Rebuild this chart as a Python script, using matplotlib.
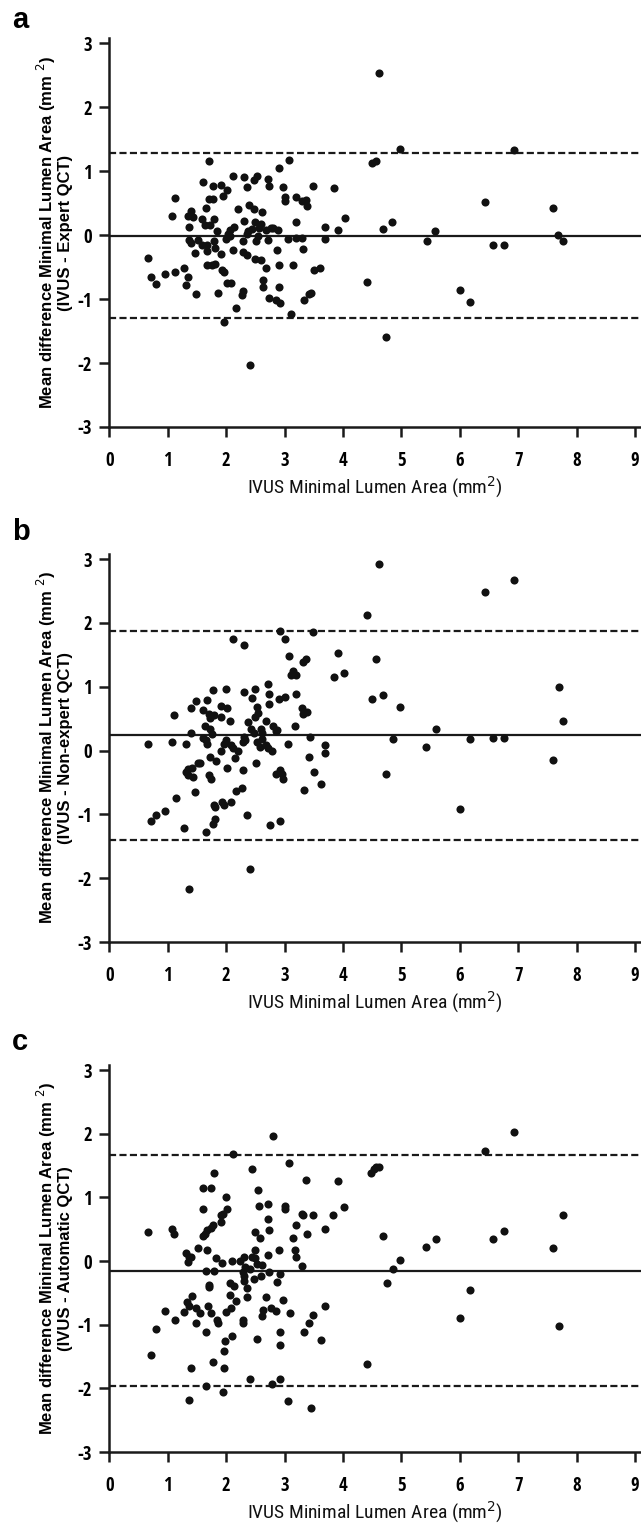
import numpy as np
import matplotlib
matplotlib.use("Agg")
import matplotlib.pyplot as plt
from matplotlib import font_manager as fm
from matplotlib.ft2font import FT2Font

plt.rcParams['font.family'] = ['Liberation Sans', 'DejaVu Sans']
plt.rcParams['axes.unicode_minus'] = False

# the figure uses a narrow (condensed) sans; look for a similar installed face
ok_families = ('DejaVu Sans', 'Liberation Sans', 'Noto Sans', 'Roboto', 'Open Sans', 'Lato', 'Inter')
bad_words = ('Symbol', 'Math', 'Mono', 'CJK', 'Serif', 'Emoji', 'Italic')


def weight_of(f):
    w = f.weight
    if isinstance(w, str):
        w = fm.weight_dict.get(w, 400)
    return w


def zero_width(path):
    # advance of '0' in em, or None if the face lacks digits / letters
    try:
        ft = FT2Font(path)
        for ch in '0123456789-ACIMSUVQT':
            if ft.get_char_index(ord(ch)) == 0:
                return None
        ft.set_size(100, 72)
        g = ft.load_char(ord('0'))
        return g.horiAdvance / 64.0 / 100.0
    except Exception:
        return None


bold_faces = []
mid_faces = []
reg_faces = []
for f in fm.fontManager.ttflist:
    if f.style != 'normal' or not f.name.startswith(ok_families):
        continue
    if any(b in f.name for b in bad_words):
        continue
    narrowish = ('Narrow' in f.name or 'Condensed' in f.name or
                 f.stretch in ('condensed', 'semi-condensed', 'extra-condensed'))
    if not narrowish:
        continue
    zw = zero_width(f.fname)
    if zw is None:
        continue
    w = weight_of(f)
    if 650 <= w <= 800:
        bold_faces.append((abs(zw - 0.47), f.fname))
    elif 550 <= w < 650:
        mid_faces.append((abs(zw - 0.47), f.fname))
    elif 400 <= w <= 500:
        reg_faces.append((abs(zw - 0.47), f.fname))
bold_faces.sort()
mid_faces.sort()
reg_faces.sort()

if bold_faces:
    tick_fp = fm.FontProperties(fname=bold_faces[0][1], size=13.5)
elif mid_faces:
    tick_fp = fm.FontProperties(fname=mid_faces[0][1], size=13.5)
else:
    tick_fp = fm.FontProperties(family=['Liberation Sans', 'DejaVu Sans'], weight='bold', size=13)
if mid_faces:
    xlab_fp = fm.FontProperties(fname=mid_faces[0][1], size=13.5)
elif reg_faces:
    xlab_fp = fm.FontProperties(fname=reg_faces[0][1], size=14)
else:
    xlab_fp = fm.FontProperties(family=['Liberation Sans', 'DejaVu Sans'], size=12.5)

# panel a: IVUS - Expert QCT
a_x = [4.62, 4.97, 4.50, 4.57, 1.71, 3.08, 2.91, 2.11, 2.30, 2.47, 2.52, 2.71, 1.61, 1.77, 1.91,
       2.01, 2.36, 2.73, 2.98, 3.48, 3.84, 1.12, 1.95, 1.70, 1.78, 3.00, 3.01, 3.20, 3.29, 3.37,
       3.38, 2.39, 2.47, 2.21, 2.62, 1.65, 1.39, 1.08, 1.34, 1.43, 1.59, 1.80, 1.64, 1.72, 1.36,
       2.30, 2.49, 2.59, 3.19, 4.03, 4.84, 4.69, 3.70, 3.92, 1.84, 2.07, 2.14, 2.38, 2.45, 2.57,
       2.69, 2.76, 2.81, 2.89, 2.04, 1.99, 2.07, 2.36, 2.54, 2.72, 3.05, 3.20, 3.29, 3.70, 1.36,
       1.40, 1.52, 1.58, 1.67, 1.80, 1.81, 2.28, 2.51, 2.87, 3.31, 2.11, 1.47, 1.68, 1.92, 2.29,
       2.35, 0.66, 2.50, 2.59, 2.68, 2.91, 3.15, 1.68, 1.75, 1.81, 1.28, 1.13, 1.93, 1.96, 0.96,
       0.71, 1.35, 0.80, 1.31, 2.01, 2.09, 2.63, 2.63, 2.91, 3.50, 3.61, 4.41, 1.49, 1.86, 2.28,
       2.27, 2.74, 2.85, 2.93, 3.33, 3.42, 3.45, 2.17, 3.11, 1.97, 4.74, 2.41, 6.92, 5.43, 5.58,
       6.43, 6.56, 6.75, 7.59, 7.68, 7.76, 6.01, 6.18]
a_y = [2.53, 1.35, 1.12, 1.16, 1.15, 1.18, 1.05, 0.93, 0.91, 0.86, 0.93, 0.87, 0.83, 0.77, 0.79,
       0.71, 0.75, 0.76, 0.75, 0.77, 0.74, 0.58, 0.61, 0.56, 0.56, 0.60, 0.53, 0.60, 0.53, 0.55,
       0.46, 0.47, 0.40, 0.41, 0.36, 0.42, 0.38, 0.30, 0.30, 0.28, 0.25, 0.25, 0.16, 0.15, 0.13,
       0.22, 0.21, 0.18, 0.20, 0.26, 0.21, 0.10, 0.12, 0.08, 0.07, 0.08, 0.12, 0.06, 0.09, 0.11,
       0.08, 0.11, 0.11, 0.08, 0.01, -0.06, -0.02, 0.02, -0.02, -0.07, -0.06, -0.04, -0.04, -0.06, -0.08,
       -0.12, -0.07, -0.15, -0.15, -0.10, -0.20, -0.09, -0.10, -0.24, -0.22, -0.24, -0.28, -0.25, -0.30, -0.27,
       -0.31, -0.36, -0.38, -0.39, -0.52, -0.47, -0.47, -0.47, -0.47, -0.45, -0.51, -0.58, -0.55, -0.58, -0.61,
       -0.65, -0.65, -0.77, -0.78, -0.75, -0.75, -0.70, -0.81, -0.81, -0.55, -0.51, -0.74, -0.92, -0.90, -0.87,
       -0.94, -0.99, -1.01, -1.06, -1.01, -0.92, -0.90, -1.14, -1.24, -1.36, -1.59, -2.03, 1.33, -0.10, 0.06,
       0.51, -0.16, -0.15, 0.43, 0.00, -0.10, -0.86, -1.04]

# panel b: IVUS - Non-expert QCT
b_x = [4.62, 6.93, 6.43, 4.41, 2.92, 3.48, 2.12, 3.01, 2.30, 3.91, 4.57, 3.08, 3.32, 3.37, 3.15,
       3.19, 3.11, 4.02, 3.84, 2.71, 7.69, 1.77, 1.99, 2.30, 2.50, 2.73, 3.20, 4.69, 2.44, 3.00,
       2.91, 4.50, 1.49, 1.68, 1.39, 1.91, 2.01, 2.74, 2.52, 2.55, 4.98, 3.30, 3.38, 3.32, 1.11,
       1.60, 1.71, 1.80, 1.73, 1.92, 2.07, 2.38, 2.50, 2.69, 7.77, 3.18, 1.64, 1.73, 2.81, 2.87,
       2.86, 5.59, 1.39, 1.76, 2.43, 2.48, 2.59, 2.62, 1.60, 1.65, 1.67, 1.99, 1.96, 2.30, 2.33,
       2.28, 2.53, 2.61, 2.58, 2.68, 2.72, 3.43, 4.85, 6.18, 6.57, 6.76, 0.66, 1.08, 1.31, 3.05,
       3.70, 2.09, 2.12, 5.42, 1.91, 2.21, 2.79, 2.15, 1.72, 3.41, 3.70, 7.60, 1.56, 1.51, 1.83,
       2.51, 1.41, 1.35, 1.32, 2.02, 2.28, 2.92, 2.96, 2.86, 3.50, 1.44, 1.35, 1.70, 1.74, 2.97,
       4.74, 3.62, 1.47, 2.27, 2.17, 3.33, 1.14, 2.09, 1.93, 1.96, 1.81, 1.79, 0.95, 0.80, 0.71,
       6.01, 2.35, 1.81, 1.77, 2.93, 2.75, 1.28, 1.65, 2.41, 1.36]
b_y = [2.92, 2.68, 2.48, 2.12, 1.87, 1.85, 1.75, 1.75, 1.65, 1.53, 1.44, 1.48, 1.39, 1.43, 1.25,
       1.18, 1.18, 1.22, 1.16, 1.05, 0.99, 0.95, 0.97, 0.91, 0.97, 0.89, 0.88, 0.87, 0.83, 0.84,
       0.80, 0.80, 0.78, 0.79, 0.67, 0.70, 0.66, 0.73, 0.69, 0.59, 0.68, 0.66, 0.61, 0.58, 0.56,
       0.64, 0.58, 0.55, 0.51, 0.53, 0.47, 0.44, 0.52, 0.47, 0.47, 0.39, 0.38, 0.33, 0.39, 0.32,
       0.30, 0.34, 0.27, 0.26, 0.33, 0.27, 0.33, 0.27, 0.20, 0.16, 0.11, 0.16, 0.11, 0.21, 0.17,
       0.13, 0.14, 0.18, 0.06, 0.08, 0.04, 0.21, 0.18, 0.18, 0.20, 0.19, 0.11, 0.13, 0.10, 0.10,
       0.09, 0.08, 0.04, 0.05, 0.00, 0.00, 0.00, -0.11, -0.10, -0.10, -0.04, -0.15, -0.19, -0.20, -0.16,
       -0.19, -0.27, -0.29, -0.33, -0.27, -0.31, -0.31, -0.37, -0.37, -0.33, -0.42, -0.39, -0.38, -0.45, -0.44,
       -0.36, -0.52, -0.65, -0.59, -0.63, -0.62, -0.75, -0.80, -0.80, -0.86, -0.88, -0.86, -0.95, -1.01, -1.10,
       -0.91, -1.01, -1.07, -1.15, -1.11, -1.16, -1.22, -1.28, -1.86, -2.17]

# panel c: IVUS - Automatic QCT
c_x = [6.93, 2.81, 2.12, 6.43, 3.08, 2.45, 4.48, 4.53, 4.57, 4.61, 1.80, 3.37, 3.91, 1.60, 1.74,
       2.55, 2.00, 2.71, 3.00, 3.01, 2.57, 4.02, 1.61, 2.01, 1.94, 1.91, 3.31, 3.29, 3.49, 3.83,
       7.77, 2.71, 1.91, 1.77, 1.74, 1.68, 3.20, 1.08, 1.11, 0.66, 2.73, 3.70, 6.76, 2.49, 1.64,
       1.60, 3.38, 4.69, 2.58, 3.15, 5.59, 6.57, 1.51, 5.42, 7.60, 1.68, 2.50, 2.90, 3.18, 1.31,
       1.36, 1.40, 3.20, 2.71, 1.82, 2.30, 2.23, 2.44, 2.50, 2.52, 2.10, 1.35, 1.93, 4.98, 2.61,
       3.29, 2.33, 2.28, 2.40, 1.65, 1.80, 2.74, 2.92, 4.85, 2.30, 2.30, 2.47, 2.59, 2.87, 1.70,
       1.71, 2.06, 2.14, 4.75, 2.35, 6.18, 2.07, 1.41, 2.35, 2.68, 2.17, 2.98, 1.33, 1.37, 1.48,
       1.69, 3.70, 0.95, 1.28, 2.09, 2.00, 2.63, 2.62, 2.76, 2.85, 1.56, 1.74, 3.10, 3.49, 1.84,
       1.86, 1.13, 1.49, 2.28, 2.28, 3.41, 6.01, 7.69, 0.80, 1.66, 2.93, 3.33, 2.10, 2.52, 1.98,
       3.62, 2.92, 1.97, 0.71, 1.78, 4.41, 1.39, 1.96, 2.41, 2.92, 1.65, 2.78, 1.94, 1.36, 3.06,
       3.45]
c_y = [2.03, 1.96, 1.68, 1.73, 1.54, 1.44, 1.39, 1.44, 1.47, 1.48, 1.38, 1.27, 1.26, 1.15, 1.14,
       1.12, 1.01, 0.90, 0.86, 0.81, 0.86, 0.85, 0.81, 0.81, 0.74, 0.72, 0.72, 0.74, 0.73, 0.72,
       0.72, 0.66, 0.61, 0.57, 0.52, 0.49, 0.57, 0.51, 0.43, 0.46, 0.49, 0.50, 0.47, 0.46, 0.42,
       0.39, 0.43, 0.39, 0.36, 0.36, 0.35, 0.34, 0.21, 0.22, 0.21, 0.17, 0.17, 0.17, 0.17, 0.13,
       0.07, 0.07, 0.07, 0.10, 0.05, 0.07, 0.00, 0.06, 0.05, -0.05, 0.00, -0.01, -0.03, 0.02, -0.06,
       -0.07, -0.09, -0.17, -0.13, -0.16, -0.15, -0.17, -0.20, -0.13, -0.24, -0.31, -0.28, -0.24, -0.33, -0.37,
       -0.40, -0.35, -0.39, -0.35, -0.43, -0.45, -0.54, -0.55, -0.57, -0.57, -0.63, -0.61, -0.65, -0.70, -0.74,
       -0.71, -0.71, -0.79, -0.80, -0.74, -0.80, -0.77, -0.86, -0.73, -0.79, -0.82, -0.82, -0.82, -0.84, -0.93,
       -0.97, -0.93, -0.97, -0.92, -0.98, -0.98, -0.90, -1.02, -1.06, -1.11, -1.12, -1.11, -1.18, -1.22, -1.26,
       -1.24, -1.32, -1.42, -1.48, -1.58, -1.62, -1.68, -1.68, -1.86, -1.86, -1.96, -1.93, -2.06, -2.18, -2.20,
       -2.31]

# mean difference and limits of agreement
means = [-0.01, 0.245, -0.15]
uppers = [1.29, 1.87, 1.665]
lowers = [-1.30, -1.40, -1.96]

letters = ['a', 'b', 'c']
ylabels = ['Mean difference Minimal Lumen Area (mm $^{2}$)\n(IVUS - Expert QCT)',
           'Mean difference Minimal Lumen Area (mm $^{2}$)\n(IVUS - Non-expert QCT)',
           'Mean difference Minimal Lumen Area (mm $^{2}$)\n(IVUS - Automatic QCT)']
xlabel = 'IVUS Minimal Lumen Area (mm$^{2}$)'

xs = [a_x, b_x, c_x]
ys = [a_y, b_y, c_y]

W, H = 641, 1526
fig = plt.figure(figsize=(W / 100, H / 100), dpi=100)

# axes boxes in pixels: top (y=3.08) and bottom (y=-3)
boxes = [(38, 427), (554, 942), (1065, 1452)]
letter_y = [20, 532, 1042]

for i in range(3):
    top, bot = boxes[i]
    ax = fig.add_axes([109.3 / W, 1 - bot / H, (641 - 109.3) / W, (bot - top) / H])
    ax.scatter(xs[i], ys[i], s=34, color='#111111', linewidths=0, zorder=3)
    ax.axhline(means[i], color='#1a1a1a', lw=1.6, zorder=2)
    ax.axhline(uppers[i], color='#1a1a1a', lw=1.6, ls=(0, (3.2, 1.5)), zorder=2)
    ax.axhline(lowers[i], color='#1a1a1a', lw=1.6, ls=(0, (3.2, 1.5)), zorder=2)

    ax.set_xlim(0, 9.1)
    ax.set_ylim(-3, 3.08)
    ax.set_xticks(range(0, 10))
    ax.set_yticks(range(-3, 4))
    for s in ['top', 'right']:
        ax.spines[s].set_visible(False)
    for s in ['left', 'bottom']:
        ax.spines[s].set_linewidth(1.8)
        ax.spines[s].set_color('#1a1a1a')
    ax.tick_params(axis='both', length=7.5, width=1.8, color='#1a1a1a')
    ax.tick_params(axis='x', pad=10)
    ax.tick_params(axis='y', pad=5)
    for lab in ax.get_xticklabels() + ax.get_yticklabels():
        lab.set_fontproperties(tick_fp)

    # x label placed by hand under the tick labels
    ax.text(0.5, -0.155, xlabel, transform=ax.transAxes, ha='center', va='center',
            fontproperties=xlab_fp, color='#111111')
    ax.text(-0.104, 0.5, ylabels[i], transform=ax.transAxes, rotation=90,
            ha='center', va='center', fontsize=12, fontweight='bold', linespacing=1.05)
    fig.text(12 / W, 1 - letter_y[i] / H, letters[i], fontsize=21, fontweight='bold',
             ha='left', va='center')

fig.savefig('out.png', dpi=100)
